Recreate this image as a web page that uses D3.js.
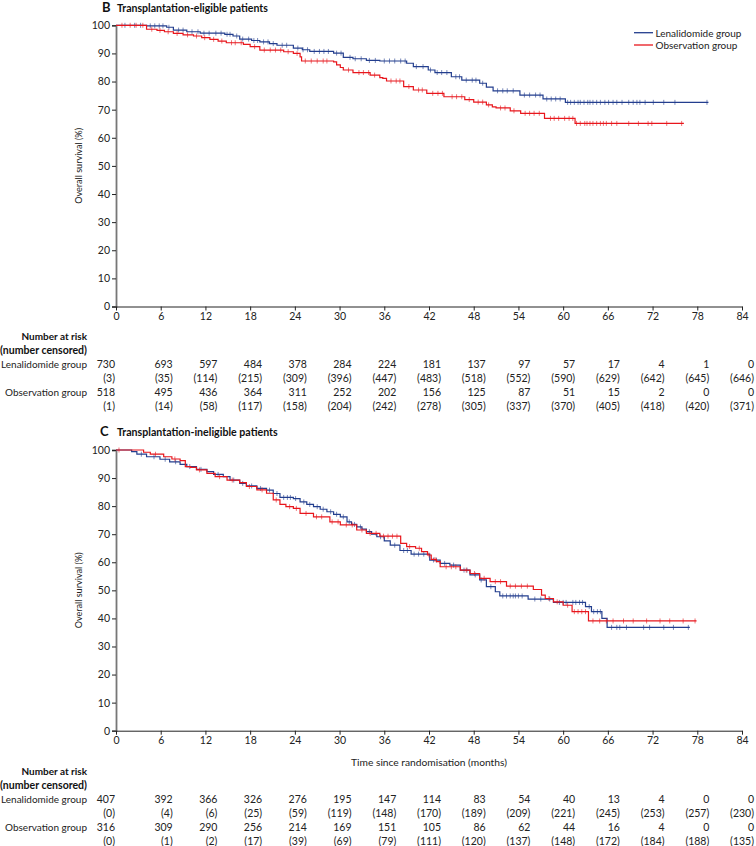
<!DOCTYPE html>
<html>
<head>
<meta charset="utf-8">
<script src="https://cdn.jsdelivr.net/npm/d3@7"></script>
<style>
  html, body { margin: 0; padding: 0; background: #fff; }
  svg { display: block; font-family: Lato, "Liberation Sans", sans-serif; }
</style>
</head>
<body>
<svg id="chart" width="756" height="846"></svg>
<script>
// ---------------- DATA ----------------
const groups = ["Lenalidomide group", "Observation group"];
const xTicks = [0, 6, 12, 18, 24, 30, 36, 42, 48, 54, 60, 66, 72, 78, 84];
const yTicks = [0, 10, 20, 30, 40, 50, 60, 70, 80, 90, 100];

// Panel B: transplantation-eligible. Steps: [month, survival % from that month on]
const lenB = [[0,100],[4.1,99.8],[6.8,99.3],[7.7,98.3],[9.5,97.7],[11.3,97.2],[14.6,96.8],[15.7,96.2],[16.6,95.1],[18.2,94.6],[19.3,94.1],[20.6,93.5],[21.6,92.9],[23.8,91.9],[25.0,91.3],[26.0,90.7],[29.2,90.1],[30.5,88.6],[31.8,88.1],[33.6,87.5],[35.4,87.3],[39.0,86.5],[39.9,85.3],[41.9,84.1],[42.8,83.2],[45.0,81.7],[46.4,80.5],[48.8,79.4],[49.7,78.0],[50.6,76.7],[54.2,75.2],[57.3,73.8],[60.3,72.6]];
const lenBEnd = 79.5;
const lenBCens = [1.2,2.5,3.3,4.6,5.2,5.8,6.3,7.1,8.4,9.0,10.2,11.0,11.8,12.5,13.4,14.1,14.9,15.3,16.2,17.0,17.8,18.5,19.0,19.8,20.4,21.1,22.3,22.9,24.4,25.1,25.7,26.6,27.3,27.9,28.5,29.6,30.2,31.4,32.1,32.9,34.0,34.8,36.0,36.7,37.4,38.2,38.8,40.3,41.2,42.2,43.1,43.7,44.4,45.6,46.1,47.0,47.8,48.3,49.2,51.2,51.9,52.5,53.3,54.8,55.5,56.3,56.9,57.8,58.4,59.0,59.6,60.6,61.0,61.5,62.0,62.3,62.8,63.3,63.6,64.0,64.5,65.0,65.6,66.1,66.7,67.2,67.9,68.8,69.4,69.9,70.3,71.0,72.1,73.5,75.0,79.3];

const obsB = [[0,100],[4.1,98.6],[5.5,98.2],[6.5,97.7],[7.7,97.1],[9.0,96.6],[10.4,96.2],[11.5,95.6],[12.6,95.0],[13.7,94.4],[14.8,93.8],[17.1,93.2],[18.0,92.4],[19.3,91.2],[22.5,90.6],[23.8,90.0],[24.7,88.8],[24.9,87.3],[29.2,87.0],[29.6,85.9],[30.1,85.0],[30.5,84.1],[31.8,83.2],[34.1,82.3],[35.4,81.4],[35.8,81.1],[36.3,80.2],[38.6,78.2],[39.9,77.0],[41.7,75.8],[44.0,74.6],[46.8,73.6],[48.0,72.7],[49.7,71.7],[50.5,71.0],[51.0,70.6],[52.9,69.6],[54.3,68.7],[57.5,66.9],[61.6,65.1]];
const obsBEnd = 76.2;
const obsBCens = [0.8,1.9,2.7,3.6,4.8,5.9,7.0,8.2,9.6,10.8,11.9,13.1,14.2,15.5,16.0,16.8,18.6,19.9,20.7,21.4,22.1,23.1,24.3,25.4,26.2,27.0,27.8,28.3,31.2,32.6,33.2,33.9,34.7,36.9,37.6,38.1,39.3,40.6,41.1,42.5,43.2,43.8,45.1,45.7,46.4,47.4,48.6,49.2,50.0,51.6,52.2,53.4,54.9,55.5,56.1,56.8,58.3,58.8,59.4,60.2,60.8,61.3,61.8,62.3,62.9,63.2,63.6,64.0,64.5,65.0,65.4,65.8,66.5,67.2,68.8,70.1,71.4,71.9,73.9,75.9];

// Panel C: transplantation-ineligible
const lenC = [[0,100],[2.1,99.4],[2.8,98.5],[4.1,97.6],[5.9,96.7],[7.2,95.8],[8.6,94.9],[9.5,94.1],[10.8,93.1],[12.2,92.3],[13.1,91.3],[14.4,90.5],[15.3,89.3],[16.6,88.1],[17.5,87.2],[18.9,86.3],[20.2,85.7],[21.1,84.5],[22.0,83.1],[23.8,82.7],[24.7,81.5],[25.6,80.6],[26.5,79.8],[27.4,78.9],[28.3,78.0],[29.2,77.1],[30.1,76.2],[31.0,74.4],[31.6,73.5],[32.3,72.6],[33.0,71.8],[33.6,70.9],[34.3,70.0],[35.0,69.1],[36.0,67.6],[36.8,66.1],[38.1,64.2],[39.6,62.9],[42.1,60.8],[43.5,59.6],[44.8,59.0],[46.2,57.2],[47.5,55.5],[48.8,53.7],[49.7,51.3],[50.9,49.5],[51.5,48.0],[55.3,46.9],[58.7,45.7],[63.0,44.2],[63.8,42.4],[65.2,40.0],[65.9,36.8]];
const lenCEnd = 77.0;
const lenCCens = [3.4,5.1,6.6,8.0,9.9,11.4,13.7,15.8,17.0,18.2,19.4,20.6,21.6,22.5,23.0,23.4,24.1,25.2,26.0,27.0,27.8,28.8,29.6,30.5,31.3,32.0,32.8,34.0,35.5,37.4,38.6,39.1,40.0,40.6,41.3,42.6,43.0,44.1,45.3,46.7,47.1,48.2,49.0,50.3,51.9,52.4,52.9,53.3,53.6,54.0,54.5,56.2,57.0,58.2,59.5,60.0,60.4,61.3,61.7,62.2,62.6,63.5,64.1,64.6,65.0,66.5,67.2,67.6,68.5,70.8,71.6,73.5,74.8,76.8];

const obsC = [[0,100],[3.7,99.2],[4.6,98.5],[6.4,97.6],[7.5,96.8],[8.6,96.2],[9.3,94.1],[10.0,93.8],[10.8,92.9],[12.2,91.7],[13.3,90.5],[14.9,89.3],[16.6,88.4],[17.5,87.0],[18.9,85.8],[20.2,84.6],[21.1,82.2],[22.0,80.6],[22.8,79.8],[23.8,79.2],[24.7,77.4],[26.5,76.2],[28.7,74.4],[30.1,73.3],[32.3,71.5],[33.6,70.3],[35.4,69.3],[38.2,66.7],[39.0,65.6],[40.2,65.0],[41.0,63.8],[41.8,62.6],[42.3,61.0],[43.0,60.2],[43.5,58.4],[46.2,57.2],[47.5,56.0],[48.8,54.3],[50.2,53.1],[52.4,51.5],[56.0,50.3],[57.1,48.3],[57.6,47.1],[58.7,45.9],[60.0,44.7],[61.2,42.4],[63.4,39.1]];
const obsCEnd = 77.9;
const obsCCens = [0.4,5.3,7.9,11.2,13.9,15.6,17.9,19.6,21.5,23.3,24.2,25.5,26.9,27.6,29.0,29.8,30.9,31.7,33.0,34.1,34.9,35.9,36.5,37.1,37.7,39.4,40.7,42.0,42.8,44.3,45.0,45.6,47.0,48.1,49.4,50.9,51.6,52.9,53.6,54.4,55.2,58.1,59.2,60.6,61.5,62.0,62.5,63.0,64.0,64.9,65.8,66.7,68.1,69.4,71.2,73.0,74.3,76.1,77.7];

// Number at risk (number censored)
const riskB = {
  len: [730,693,597,484,378,284,224,181,137,97,57,17,4,1,0],
  lenCens: [3,35,114,215,309,396,447,483,518,552,590,629,642,645,646],
  obs: [518,495,436,364,311,252,202,156,125,87,51,15,2,0,0],
  obsCens: [1,14,58,117,158,204,242,278,305,337,370,405,418,420,371]
};
const riskC = {
  len: [407,392,366,326,276,195,147,114,83,54,40,13,4,0,0],
  lenCens: [0,4,6,25,59,119,148,170,189,209,221,245,253,257,230],
  obs: [316,309,290,256,214,169,151,105,86,62,44,16,4,0,0],
  obsCens: [0,1,2,17,39,69,79,111,120,137,148,172,184,188,135]
};

// ---------------- DRAW ----------------
const BLUE = "#233e8e", RED = "#e8161c";
const svg = d3.select("#chart");
const x = d3.scaleLinear().domain([0, 84]).range([116, 742]);

// scale a text's font size so that it spans the wanted width
function fit(sel, w) {
  const len = sel.node().getComputedTextLength();
  const fs = parseFloat(sel.attr("font-size"));
  const nfs = fs * w / len;
  sel.attr("font-size", nfs);
  return nfs;
}

// measure label size once
const probe = svg.append("text").attr("font-size", 10).text(groups[0]);
const LABEL_FS = fit(probe, 86);
probe.remove();

function survAt(steps, t) {
  let s = steps[0][1];
  for (const p of steps) { if (p[0] <= t) s = p[1]; else break; }
  return s;
}

function panel(opts) {
  const y = d3.scaleLinear().domain([0, 100]).range([opts.y0, opts.y100]);
  const g = svg.append("g");

  // title
  g.append("text").attr("x", opts.letterX).attr("y", opts.titleY)
    .attr("font-size", 13).attr("font-weight", 700).attr("fill", "#111").text(opts.letter);
  const tt = g.append("text").attr("x", 117).attr("y", opts.titleY)
    .attr("font-size", 10.5).attr("font-weight", 700).attr("fill", "#111").text(opts.title);
  fit(tt, opts.titleW);

  // axes
  const ya = g.append("g").attr("transform", `translate(${x(0)},0)`)
    .call(d3.axisLeft(y).tickValues(yTicks).tickSize(4).tickPadding(2));
  ya.select(".domain").attr("stroke", "#777").attr("stroke-width", 1.8);
  ya.selectAll(".tick line").attr("stroke", "#222");
  ya.selectAll("text").attr("font-size", 10.5).attr("fill", "#222").attr("font-family", "Lato, sans-serif");

  const xa = g.append("g").attr("transform", `translate(0,${opts.y0})`)
    .call(d3.axisBottom(x).tickValues(xTicks).tickSize(4).tickPadding(2).tickSizeOuter(0));
  xa.select(".domain").attr("stroke", "#222").attr("stroke-width", 1);
  xa.selectAll(".tick line").attr("stroke", "#222");
  xa.selectAll("text").attr("font-size", 10.5).attr("fill", "#222").attr("font-family", "Lato, sans-serif");

  // y label
  const yl = g.append("text")
    .attr("transform", `translate(82,${(opts.y0 + opts.y100) / 2}) rotate(-90)`)
    .attr("text-anchor", "middle").attr("font-size", 10).attr("fill", "#222")
    .text("Overall survival (%)");
  fit(yl, 76);

  if (opts.xLabel) {
    const xl = g.append("text").attr("x", x(42)).attr("y", opts.y0 + 35)
      .attr("text-anchor", "middle").attr("font-size", 10).attr("fill", "#222")
      .text(opts.xLabel);
    fit(xl, 156);
  }

  // curves
  const line = d3.line().x(d => x(d[0])).y(d => y(d[1])).curve(d3.curveStepAfter);
  opts.series.forEach(s => {
    const pts = s.steps.concat([[s.end, s.steps[s.steps.length - 1][1]]]);
    g.append("path").datum(pts).attr("d", line)
      .attr("fill", "none").attr("stroke", s.color).attr("stroke-width", 1.2);
    g.append("g").selectAll("line").data(s.cens).join("line")
      .attr("x1", d => x(d)).attr("x2", d => x(d))
      .attr("y1", d => y(survAt(s.steps, d)) - 2.5)
      .attr("y2", d => y(survAt(s.steps, d)) + 2.5)
      .attr("stroke", s.color).attr("stroke-width", 1).attr("opacity", 0.6);
  });

  // risk table
  const t = opts.tableY;
  const hdr = g.append("g").attr("font-weight", 700).attr("font-size", LABEL_FS).attr("fill", "#111").attr("text-anchor", "end");
  hdr.append("text").attr("x", 87).attr("y", t).text("Number at risk");
  const nc = hdr.append("text").attr("x", 87).attr("y", t + 14).attr("font-size", LABEL_FS).text("(number censored)");
  fit(nc, 87);
  const lab = g.append("g").attr("font-size", LABEL_FS).attr("fill", "#222").attr("text-anchor", "end");
  lab.append("text").attr("x", 87).attr("y", t + 28).text(groups[0]);
  lab.append("text").attr("x", 87).attr("y", t + 56).text(groups[1]);
  const colX = (v, i) => i === 0 ? x(v) - 1 : x(v) + 12;
  const rows = [
    [opts.risk.len, t + 28, false],
    [opts.risk.lenCens, t + 42, true],
    [opts.risk.obs, t + 56, false],
    [opts.risk.obsCens, t + 70, true]
  ];
  rows.forEach(([vals, yy, paren]) => {
    lab.append("g").attr("font-size", 10.5).selectAll("text").data(vals).join("text")
      .attr("x", (d, i) => colX(xTicks[i], i)).attr("y", yy)
      .text(d => paren ? `(${d})` : d);
  });
}

panel({
  letter: "B", letterX: 102, titleY: 12, titleW: 151, title: "Transplantation-eligible patients",
  y0: 306.5, y100: 25.3, tableY: 340,
  series: [
    { steps: lenB, end: lenBEnd, cens: lenBCens, color: BLUE },
    { steps: obsB, end: obsBEnd, cens: obsBCens, color: RED }
  ],
  risk: riskB
});

panel({
  letter: "C", letterX: 100, titleY: 436, titleW: 161, title: "Transplantation-ineligible patients",
  y0: 730.7, y100: 450, tableY: 774.5, xLabel: "Time since randomisation (months)",
  series: [
    { steps: lenC, end: lenCEnd, cens: lenCCens, color: BLUE },
    { steps: obsC, end: obsCEnd, cens: obsCCens, color: RED }
  ],
  risk: riskC
});

// legend (panel B)
const leg = svg.append("g");
[[groups[0], BLUE, 32.7], [groups[1], RED, 45]].forEach(([name, col, yy]) => {
  leg.append("line").attr("x1", 634).attr("x2", 653).attr("y1", yy).attr("y2", yy)
    .attr("stroke", col).attr("stroke-width", 1.3);
  leg.append("text").attr("x", 655.5).attr("y", yy + 3.8).attr("font-size", LABEL_FS)
    .attr("fill", "#222").text(name);
});
</script>
</body>
</html>
